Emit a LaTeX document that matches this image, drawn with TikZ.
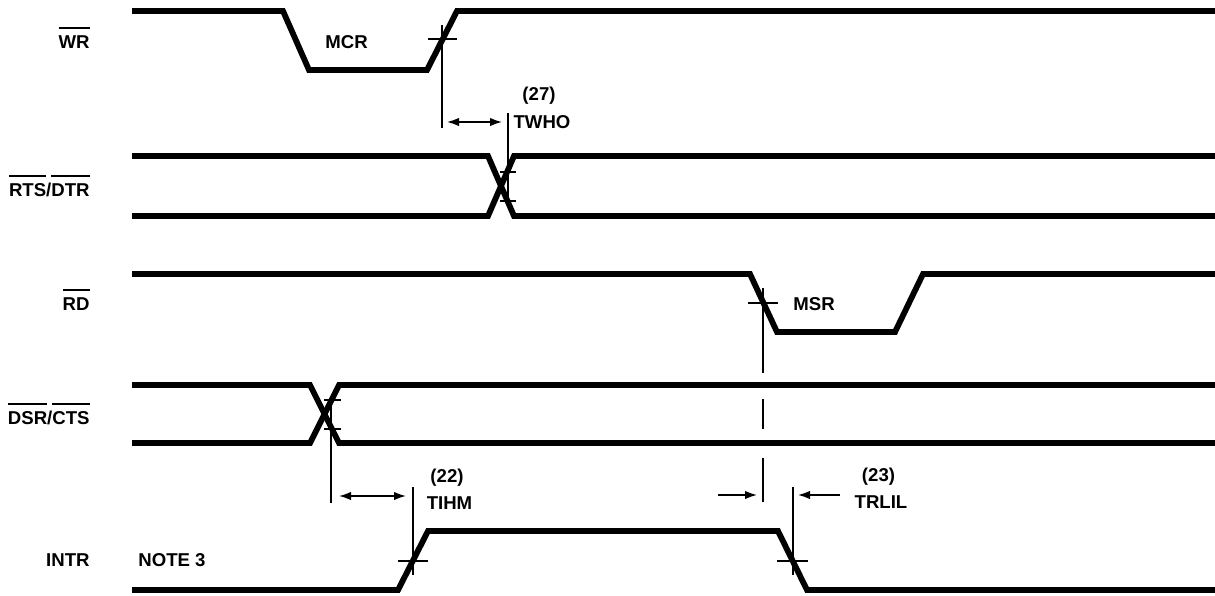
\documentclass[tikz,border=0pt]{standalone}
\usepackage{fontspec}
\setmainfont{Liberation Sans}
\usetikzlibrary{arrows.meta,positioning}

\newcommand{\sigbar}[1]{\setbox0=\hbox{#1}\rlap{\raisebox{9.5pt}{\rule{\wd0}{0.85pt}}}\box0}

\begin{document}
\begin{tikzpicture}[x=0.5pt, y=-0.5pt,
    signal/.style={line width=2.9pt},
    dim/.style={line width=0.75pt},
    dimto/.style={dim, -{Latex[length=6pt, width=4.2pt]}},
    dimboth/.style={dim, {Latex[length=6pt, width=4.2pt]}-{Latex[length=6pt, width=4.2pt]}},
    every node/.style={font=\fontsize{9.3}{11}\selectfont\bfseries, inner sep=0pt},
    ]
  \useasboundingbox (0,0) rectangle (1215,595);

  % signal names
  \node[anchor=base east] (wr) at (90,48) {\sigbar{WR}};
  \node[anchor=base east] (rtsdtr) at (90,196) {\sigbar{RTS}/\sigbar{DTR}};
  \node[anchor=base east] (rd) at (90,310) {\sigbar{RD}};
  \node[anchor=base east] (dsrcts) at (90,424) {\sigbar{DSR}/\sigbar{CTS}};
  \node[anchor=base east] (intr) at (90,566) {INTR};
  \node[anchor=base west] (note) at (138,566) {NOTE 3};

  % waveforms
  \draw[signal] (132,11) -- (283,11) -- (309,70) -- (427,70) -- (457,11) -- (1215,11);
  \draw[signal] (132,156) -- (488,156) -- (514,216) -- (1215,216);
  \draw[signal] (132,216) -- (488,216) -- (514,156) -- (1215,156);
  \draw[signal] (132,274) -- (750,274) -- (777,332) -- (895,332) -- (923,274) -- (1215,274);
  \draw[signal] (132,385) -- (310,385) -- (339,443) -- (1215,443);
  \draw[signal] (132,443) -- (310,443) -- (339,385) -- (1215,385);
  \draw[signal] (132,590) -- (398,590) -- (428,531) -- (778,531) -- (807,590) -- (1215,590);

  \node[anchor=base west] (mcr) at (325,48) {MCR};
  \node[anchor=base west] (msr) at (793,310) {MSR};

  % timing marks
  \coordinate (wrup) at (442,39);
  \coordinate (rtsa) at (508,172);
  \coordinate (rtsb) at (508,201);
  \coordinate (rddown) at (763,303);
  \coordinate (dsra) at (331,400);
  \coordinate (dsrb) at (331,429);
  \coordinate (intrup) at (413,561);
  \coordinate (intrdown) at (793,561);

  \draw[dim] (wrup) ++(-14,0) -- ++(29,0);
  \draw[dim] (rtsa) ++(-8,0) -- ++(16,0);
  \draw[dim] (rtsb) ++(-8,0) -- ++(16,0);
  \draw[dim] (rddown) ++(-15,0) -- ++(30,0);
  \draw[dim] (dsra) ++(-7,0) -- ++(17,0);
  \draw[dim] (dsrb) ++(-7,0) -- ++(17,0);
  \draw[dim] (intrup) ++(-15,0) -- ++(30,0);
  \draw[dim] (intrdown) ++(-16,0) -- ++(31,0);

  \draw[dim] (442,25) -- (442,128);
  \draw[dim] (508,113) -- (508,207);
  \draw[dim, dash pattern=on 42.5pt off 13pt on 15pt off 14.5pt on 22pt] (763,288) -- (763,502);
  \draw[dim] (331,397) -- (331,503);
  \draw[dim] (413,487) -- (413,575);
  \draw[dim] (793,487) -- (793,575);

  % delays
  \coordinate (twhoL) at (447,122);
  \coordinate (twhoR) at (502,122);
  \coordinate (tihmL) at (339,496);
  \coordinate (tihmR) at (406,496);
  \coordinate (trlilA) at (718,495);
  \coordinate (trlilB) at (757,495);
  \coordinate (trlilC) at (840,495);
  \coordinate (trlilD) at (798,495);

  \draw[dimboth] (twhoL) -- (twhoR);
  \draw[dimboth] (tihmL) -- (tihmR);
  \draw[dimto] (trlilA) -- (trlilB);
  \draw[dimto] (trlilC) -- (trlilD);

  \node[anchor=base] (n27) at (539,100) {(27)};
  \node[anchor=base] (twho) at (542,128) {TWHO};
  \node[anchor=base] (n22) at (447,482) {(22)};
  \node[anchor=base] (tihm) at (449.5,509) {TIHM};
  \node[anchor=base] (n23) at (878.5,481) {(23)};
  \node[anchor=base] (trlil) at (881,508) {TRLIL};
\end{tikzpicture}
\end{document}
